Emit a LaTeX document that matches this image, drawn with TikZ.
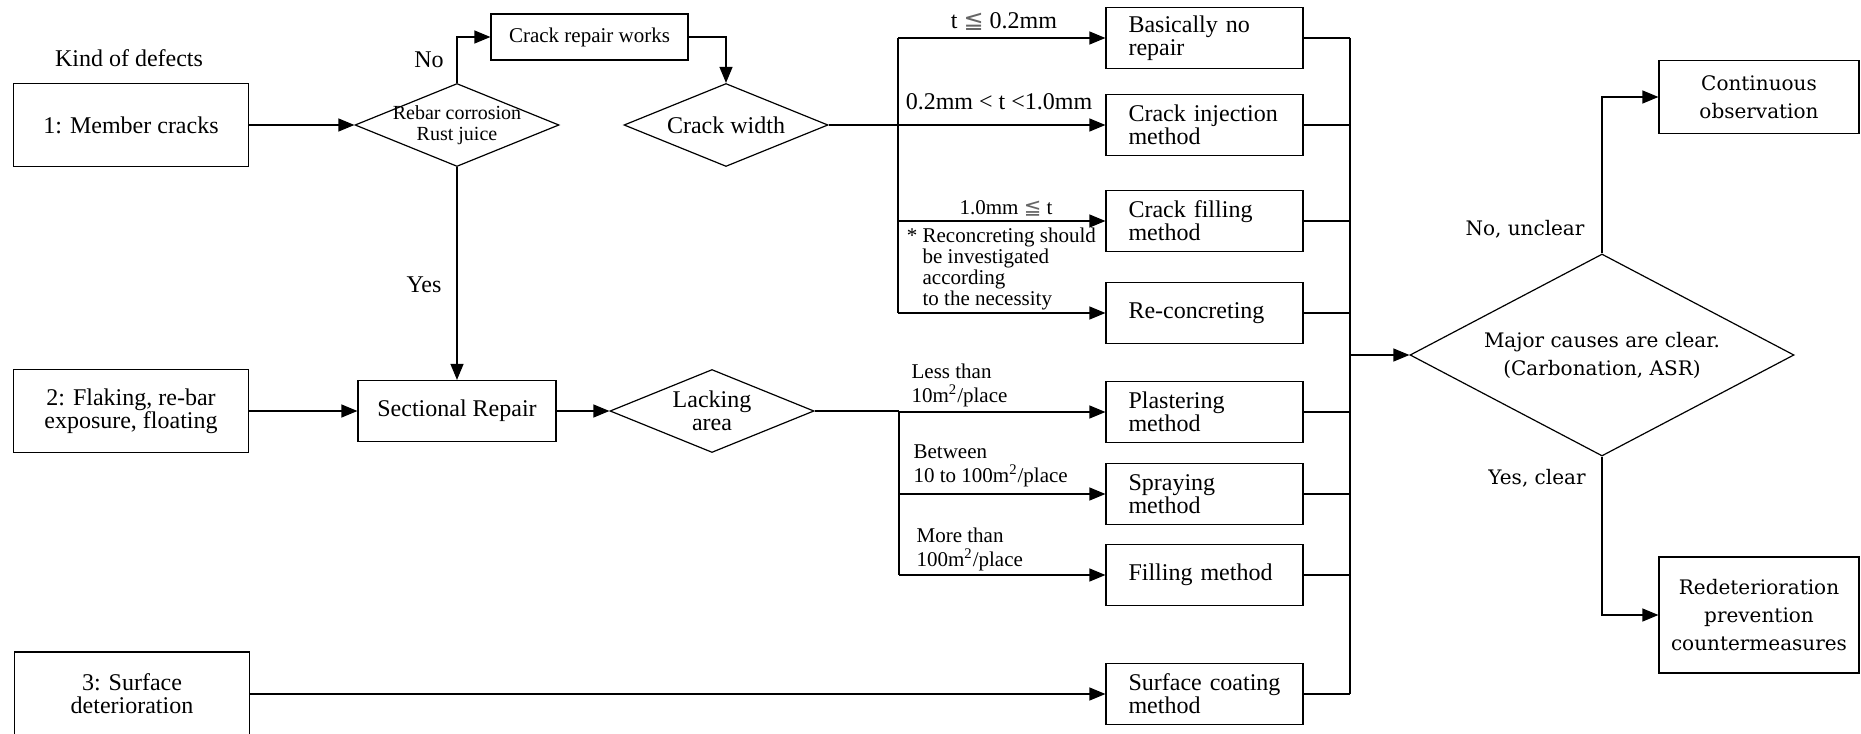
\documentclass[tikz,border=0pt]{standalone}
\usepackage{fontspec}
\setmainfont{Liberation Serif}
\newfontfamily\causefont{DejaVu Serif}
\newfontfamily\leqfont{DejaVu Sans}
\usetikzlibrary{arrows.meta,positioning,shapes.geometric}
\newcommand{\tle}{{\leqfont\color{black!60}≦}}

\begin{document}
\begin{tikzpicture}[x=0.5pt, y=-0.5pt, line width=0.6pt,
  font=\fontsize{12}{11.5}\selectfont,
  arr/.style={-{Triangle[length=8pt,width=6.5pt]}},
  box/.style={draw, align=center, inner sep=0pt, minimum width=117.5pt, minimum height=41.5pt},
  methodbox/.style={draw, align=left, text width=76pt, inner xsep=11.25pt, inner ysep=0pt, minimum height=30.25pt},
  decision/.style={draw, diamond, inner sep=0pt, minimum width=102pt, minimum height=41.5pt},
  small/.style={font=\fontsize{10.5}{12}\selectfont},
  causetxt/.style={font=\causefont\fontsize{10}{14}\selectfont, align=center}]
\useasboundingbox (0,0) rectangle (1861,733);

% Kind of defects
\node (kind) at (129,58) {Kind of defects};
\node[box] (def1) at (131,125) {1: Member cracks};
\node[box] (def2) at (131,411) {2: Flaking, re-bar\\exposure, floating};
\node[box, minimum height=42pt] (def3) at (132,694) {3: Surface\\deterioration};

% First check, crack route and sectional route
\node[decision, label={[align=center, font=\fontsize{10}{10.8}\selectfont]center:Rebar corrosion\\Rust juice}] (rebar) at (457,125) {};
\node[box, small, minimum width=98.5pt, minimum height=23pt] (crackrep) at (589.5,37) {Crack repair works};
\node[decision, label=center:Crack width] (cwidth) at (726,125) {};
\node[box, minimum width=99pt, minimum height=30.5pt] (sect) at (457,411) {Sectional Repair};
\node[decision, label={[align=center]center:Lacking\\area}] (lacking) at (712,411) {};

% Repair methods
\foreach \nm/\y/\txt in {
  basic/38/{Basically no\\repair},
  inject/125/{Crack injection\\method},
  cfill/221/{Crack filling\\method},
  reconc/313/{Re-concreting},
  plaster/412/{Plastering\\method},
  spray/494/{Spraying\\method},
  fillm/575/{Filling method},
  surf/694/{Surface coating\\method}}
{
  \node[methodbox] (\nm) at (1204.5,\y) {\txt};
}

% Final decision
\node[decision, minimum width=192pt, minimum height=101pt,
  label={[causetxt]center:Major causes are clear.\\(Carbonation, ASR)}] (major) at (1602,355) {};
\node[box, causetxt, minimum width=100pt, minimum height=36.5pt] (contobs) at (1759,97) {Continuous\\observation};
\node[box, causetxt, minimum width=100pt, minimum height=58pt] (redet) at (1759,615) {Redeterioration\\prevention\\countermeasures};

% Branch labels
\node (no1) at (429,60) {No};
\node (yes1) at (424,285) {Yes};
\node (w1) at (1004,22) {t \tle{} 0.2mm};
\node (w2) at (999,102) {0.2mm < t <1.0mm};
\node[small] (w3) at (1006,208) {1.0mm \tle{} t};
\node[anchor=west, inner sep=0pt, align=left, font=\fontsize{10.5}{9.4}\selectfont] (note) at (922,269)
  {\llap{*\ }Reconcreting should\\be investigated\\according\\to the necessity};
\node[small, anchor=west, inner sep=0pt, align=left] (a1) at (911,385) {Less than\\10m\textsuperscript{2}/place};
\node[small, anchor=west, inner sep=0pt, align=left] (a2) at (913,466) {Between\\10 to 100m\textsuperscript{2}/place};
\node[small, anchor=west, inner sep=0pt, align=left] (a3) at (916,549) {More than\\100m\textsuperscript{2}/place};
\node[causetxt] (nounc) at (1525,229) {No, unclear};
\node[causetxt] (yescl) at (1537,478) {Yes, clear};

% Connectors
\coordinate (ctrunk) at (898,125);
\coordinate (ltrunk) at (899,411);
\coordinate (coll) at (1350,355);

\draw[arr] (def1.east) -- (rebar.west);
\draw[arr] (rebar.north) |- (crackrep.west);
\draw[arr] (crackrep.east) -| (cwidth.north);
\draw[arr] (rebar.south) -- (sect.north);
\draw[arr] (def2.east) -- (sect.west);
\draw[arr] (sect.east) -- (lacking.west);
\draw[arr] (def3.east) -- (surf.west);

\draw (cwidth.east) -- (ctrunk);
\draw (ctrunk |- basic) -- (ctrunk |- reconc);
\foreach \nm in {basic,inject,cfill,reconc}
  \draw[arr] (ctrunk |- \nm) -- (\nm.west);

\draw (lacking.east) -- (ltrunk);
\draw (ltrunk) -- (ltrunk |- fillm);
\foreach \nm in {plaster,spray,fillm}
  \draw[arr] (ltrunk |- \nm) -- (\nm.west);

\foreach \nm in {basic,inject,cfill,reconc,plaster,spray,fillm,surf}
  \draw (\nm.east) -- (coll |- \nm);
\draw (coll |- basic) -- (coll |- surf);
\draw[arr] (coll) -- (major.west);

\draw[arr] (major.north) |- (contobs.west);
\draw[arr] (major.south) |- (redet.west);
\end{tikzpicture}
\end{document}
